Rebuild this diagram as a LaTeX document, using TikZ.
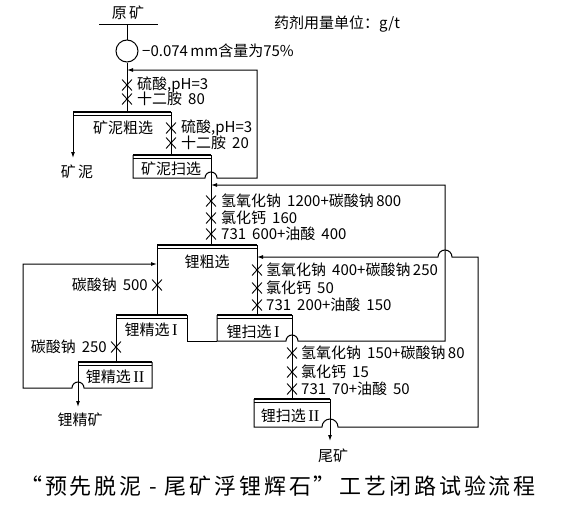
\documentclass[tikz,border=0pt]{standalone}
\usepackage{fontspec}
\setmainfont{Noto Sans CJK SC}
\newfontfamily\titlefont[LetterSpace=13]{Noto Sans CJK SC}
\newfontfamily\romanfont[Scale=1.1]{Liberation Serif}
\usetikzlibrary{arrows.meta,shapes.misc}
\newcommand\gp{\hspace{6pt}}
\newcommand\cellbar[3]{\draw[barthick] (#1,#3) -- (#2,#3); \draw[barthin] (#1,#3+3.6) -- (#2,#3+3.6);}
\begin{document}
\begin{tikzpicture}[x=1pt,y=-1pt,
  flow/.style={line width=1pt},
  arr/.style={flow,-{Latex[length=6pt,width=4pt]}},
  barthick/.style={line width=2.8pt},
  barthin/.style={line width=0.7pt},
  dose/.style={cross out,draw,line width=0.9pt,minimum width=9pt,minimum height=10pt,inner sep=0pt},
  lbl/.style={font=\fontsize{15}{17}\selectfont,inner sep=0pt},
  rtxt/.style={lbl,anchor=west},
  ltxt/.style={lbl,anchor=east},
]
\useasboundingbox (0,0) rectangle (571,509);

% ---- feed ----
\node[lbl] (raw) at (128,13) {原\,矿};
\coordinate (rawL) at (99,24); \coordinate (rawR) at (158,24); \coordinate (rawM) at (127,24);
\draw[flow] (rawL) -- (rawR);
\node[draw,circle,flow,minimum size=22pt,inner sep=0pt] (grind) at (127,51) {};
\draw[flow] (rawM) -- (grind.north);
\node[rtxt] (size) at (142,51) {−0.074\,mm含量为75\%};
\node[lbl] (unit) at (337,24) {药剂用量单位：g/t};

% ---- desliming rougher ----
\coordinate (DRl) at (73,112); \coordinate (DRr) at (171,112); \coordinate (DRf) at (127,112);
\cellbar{73}{171}{112}
\draw[flow] (grind.south) -- (DRf);
\node[dose] (x1) at (127,85) {}; \node[rtxt] (t1) at (137,85) {硫酸,pH=3};
\node[dose] (x2) at (127,99) {}; \node[rtxt] (t2) at (137,99) {十二胺\gp80};
\node[lbl] (DRname) at (123,128) {矿泥粗选};
\coordinate (slimeTip) at (73,158);
\draw[arr] (DRl) -- (slimeTip);
\node[lbl] (slime) at (77,172) {矿\,泥};

% ---- desliming scavenger ----
\coordinate (DSl) at (133,155); \coordinate (DSr) at (211,155); \coordinate (DSf) at (171,155);
\coordinate (DSbl) at (133,178); \coordinate (DSret) at (257,178); \coordinate (DSretT) at (257,70);
\coordinate (feedJoin) at (127,70);
\cellbar{133}{211}{155}
\draw[flow] (DRr) -- (DSf);
\node[dose] (x3) at (171,128) {}; \node[rtxt] (t3) at (181,128) {硫酸,pH=3};
\node[dose] (x4) at (171,143) {}; \node[rtxt] (t4) at (181,143) {十二胺\gp20};
\node[lbl] (DSname) at (171,169) {矿泥扫选};
\draw[arr] (DSl) -- (DSbl) -- (205,178) arc[start angle=180,end angle=0,radius=6pt] -- (DSret) -- (DSretT) -- (feedJoin);

% ---- lithium rougher ----
\coordinate (LRl) at (157,245); \coordinate (LRr) at (257,245); \coordinate (LRf) at (211,245);
\coordinate (LRjoin) at (211,185); \coordinate (LRjoinL) at (157,264); \coordinate (LRjoinR) at (257,257);
\cellbar{157}{257}{245}
\draw[flow] (DSr) -- (LRf);
\node[dose] (x5) at (211,201) {}; \node[rtxt] (t5) at (221,201) {氢氧化钠\gp1200+碳酸钠\,800};
\node[dose] (x6) at (211,218) {}; \node[rtxt] (t6) at (221,218) {氯化钙\gp160};
\node[dose] (x7) at (211,234) {}; \node[rtxt] (t7) at (221,234) {731\gp600+油酸\gp400};
\node[lbl] (LRname) at (207,262) {锂粗选};

% ---- cleaner I ----
\coordinate (C1l) at (116,315); \coordinate (C1r) at (187,315); \coordinate (C1f) at (157,315);
\coordinate (C1br) at (187,341);
\cellbar{116}{187}{315}
\draw[flow] (LRl) -- (C1f);
\node[dose] (x8) at (157,285) {}; \node[ltxt] (t8) at (148,285) {碳酸钠\gp500};
\node[lbl] (C1name) at (151,330) {锂精选\,{\romanfont I}};

% ---- scavenger I ----
\coordinate (S1l) at (217,315); \coordinate (S1r) at (292,315); \coordinate (S1f) at (257,315);
\coordinate (S1bl) at (217,341); \coordinate (R1b) at (445,341); \coordinate (R1t) at (445,185);
\cellbar{217}{292}{315}
\draw[flow] (LRr) -- (S1f);
\node[dose] (x9) at (257,270) {}; \node[rtxt] (t9) at (266,270) {氢氧化钠\gp400+碳酸钠\,250};
\node[dose] (x10) at (257,288) {}; \node[rtxt] (t10) at (266,288) {氯化钙\gp50};
\node[dose] (x11) at (257,305) {}; \node[rtxt] (t11) at (266,305) {731\gp200+油酸\gp150};
\node[lbl] (S1name) at (253,332) {锂扫选\,{\romanfont I}};
\draw[flow] (C1r) -- (C1br) -- (S1bl);
\draw[arr] (S1l) -- (S1bl) -- (286,341) arc[start angle=180,end angle=0,radius=6pt] -- (R1b) -- (R1t) -- (LRjoin);

% ---- cleaner II ----
\coordinate (C2l) at (78,362); \coordinate (C2r) at (152,362); \coordinate (C2f) at (116,362);
\coordinate (C2br) at (152,388); \coordinate (R2b) at (23,388); \coordinate (R2t) at (23,264);
\coordinate (concTip) at (78,407);
\cellbar{78}{152}{362}
\draw[flow] (C1l) -- (C2f);
\node[dose] (x12) at (116,347) {}; \node[ltxt] (t12) at (107,347) {碳酸钠\gp250};
\node[lbl] (C2name) at (115,377) {锂精选\,{\romanfont II}};
\draw[arr] (C2l) -- (concTip);
\node[lbl] (conc) at (80,420) {锂精矿};
\draw[arr] (C2r) -- (C2br) -- (84,388) arc[start angle=0,end angle=180,radius=6pt] -- (R2b) -- (R2t) -- (LRjoinL);

% ---- scavenger II ----
\coordinate (S2l) at (254,399); \coordinate (S2r) at (330,399); \coordinate (S2f) at (292,399);
\coordinate (S2bl) at (254,427); \coordinate (R3b) at (478,427); \coordinate (R3t) at (478,257);
\coordinate (tailTip) at (330,441);
\cellbar{254}{330}{399}
\draw[flow] (S1r) -- (S2f);
\node[dose] (x13) at (292,353) {}; \node[rtxt] (t13) at (301,353) {氢氧化钠\gp150+碳酸钠\,80};
\node[dose] (x14) at (292,372) {}; \node[rtxt] (t14) at (301,372) {氯化钙\gp15};
\node[dose] (x15) at (292,389) {}; \node[rtxt] (t15) at (301,389) {731\gp70+油酸\gp50};
\node[lbl] (S2name) at (290,416) {锂扫选\,{\romanfont II}};
\draw[arr] (S2r) -- (tailTip);
\node[lbl] (tail) at (333,456) {尾矿};
\draw[arr] (S2l) -- (S2bl) -- (322,427) arc[start angle=180,end angle=0,radius=8pt] -- (R3b) -- (R3t) -- (452,257) arc[start angle=0,end angle=180,radius=7pt] -- (LRjoinR);

% ---- title ----
\node[font=\titlefont\fontsize{22}{26}\selectfont,inner sep=0pt] (title) at (278,486) {“预先脱泥 - 尾矿浮锂辉石”\hspace{-4pt} 工艺闭路试验流程};
\end{tikzpicture}
\end{document}
